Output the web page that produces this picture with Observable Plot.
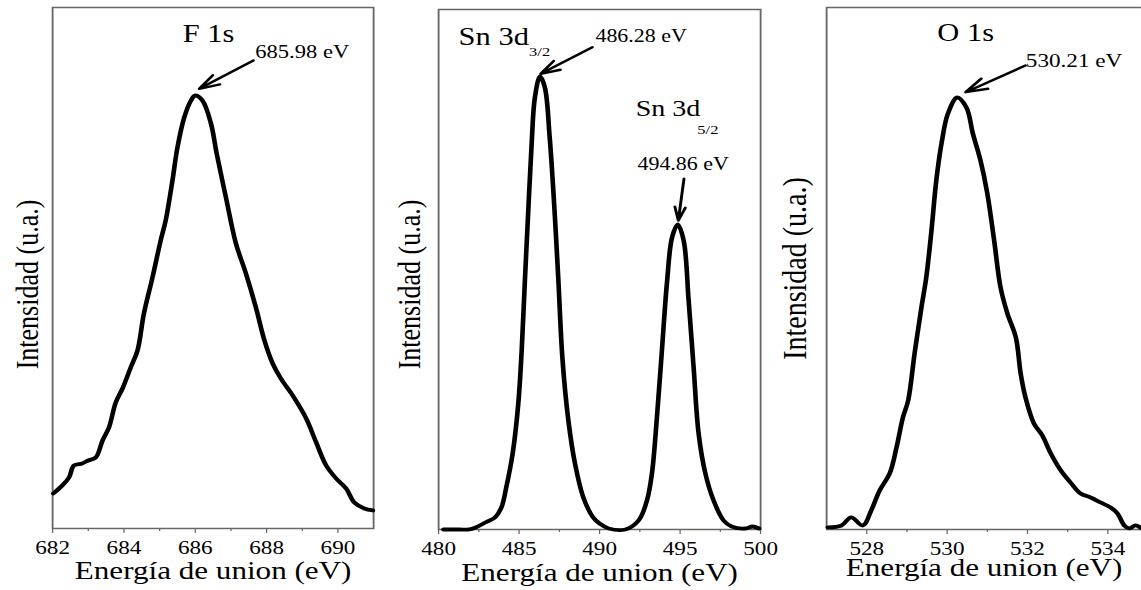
<!DOCTYPE html>
<html><head><meta charset="utf-8">
<script src="https://cdn.jsdelivr.net/npm/d3@7"></script>
<script src="https://cdn.jsdelivr.net/npm/@observablehq/plot@0.6"></script>
<style>
body{margin:0;background:#fff;}
#wrap{position:relative;width:1141px;height:590px;overflow:hidden;background:#fff;}
.panel{position:absolute;top:0;transform-origin:0 0;}
#wrap svg text{font-family:"Liberation Serif","Times New Roman",serif !important;}
#wrap svg g[aria-label="x-axis tick label"] text{font-size:19px !important;}
</style></head><body><div id="wrap"></div>
<script>
// ---------- data ----------
const f1sE = [682.02,682.27,682.46,682.6,682.83,683.0,683.21,683.4,683.58,683.77,683.96,684.19,684.38,684.56,684.8,685.03,685.17,685.36,685.5,685.69,685.88,686.0,686.2,686.44,686.6,686.86,687.14,687.42,687.7,687.94,688.17,688.4,688.73,689.11,689.39,689.67,689.95,690.23,690.46,690.74,690.98];
const f1sI = [35,43,51,63,65,68,71,88,101,126,140,161,178,215,251,288,308,348,381,411,428,433,428,405,375,331,285,255,221,188,165,150,133,110,86,63,50,40,26,20,18];

const sn3dE = [480.3,481.3,481.9,482.3,482.9,483.5,483.9,484.2,484.6,484.95,485.16,485.36,485.57,485.78,485.98,486.3,486.6,486.9,487.2,487.43,487.7,488.06,488.47,488.99,489.6,490.0,490.56,491.6,492.42,492.94,493.25,493.56,493.87,494.18,494.5,494.85,495.22,495.53,495.84,496.15,496.57,497.08,497.7,498.2,499.05,499.5,499.9];
const sn3dI = [0,0,0,2,7,12,22,42,76,126,179,249,319,386,432,453,442,392,319,252,169,109,66,32,12,6,1,0,9,29,56,112,179,246,292,305,289,229,162,96,56,29,9,3,1,3,1];

const o1sE = [527.03,527.37,527.61,527.9,528.11,528.32,528.57,528.74,528.9,529.03,529.19,529.36,529.48,529.61,529.73,529.86,530.02,530.25,530.48,530.64,530.83,531.0,531.17,531.33,531.5,531.71,531.83,531.95,532.16,532.37,532.58,532.83,533.07,533.32,533.57,533.82,534.07,534.24,534.41,534.53,534.69,534.84];
const o1sI = [2,4,12,4,19,39,56,82,112,129,176,222,252,299,349,386,416,432,422,396,369,336,289,242,216,192,156,132,106,94,76,59,47,36,32,27,22,16,4,1,4,1];

const f1sMajor = [682,684,686,688,690];
const f1sMinor = [683,685,687,689];
const sn3dMajor = [480,485,490,495,500];
const sn3dMinor = [482.5,487.5,492.5,497.5];
const o1sMajor = [528,530,532,534];
const o1sMinor = [529,531,533];

const xTitle = "Energía de union (eV)";
const yTitle = "Intensidad (u.a.)";

// annotations (anchor points in data units)
const f1sLabels = [{t:"F 1s", e:686.37, i:494.6}];
const f1sPeakLabels = [{t:"685.98 eV", e:689.0, i:476.5}];
const f1sArrows = [{e1:687.63, i1:468, e2:686.11, i2:439.7}];

const snLabels = [{t:"Sn 3d", e:481.24, i:492.3}];
const snLabels2 = [{t:"Sn 3d", e:492.24, i:421}];
const snSubs = [{t:"3/2", e:485.62, i:478},{t:"5/2", e:496.07, i:400}];
const snPeakLabels = [{t:"486.28 eV", e:492.58, i:493.5},{t:"494.86 eV", e:495.19, i:365}];
const snArrows = [{e1:489.55, i1:482.3, e2:486.34, i2:455.7},{e1:495.24, i1:350.7, e2:494.89, i2:309}];

const o1sLabels = [{t:"O 1s", e:530.46, i:496.5}];
const o1sPeakLabels = [{t:"530.21 eV", e:533.16, i:468.3}];
const o1sArrows = [{e1:531.95, i1:464, e2:530.46, i2:437.3}];

// ---------- layout ----------
const S = 1.22; // horizontal stretch of the original figure
const H = 590;
const FONT = "'Liberation Serif', 'Times New Roman', serif";
const FRAME = "#666";

function makePanel(cfg) {
  const data = cfg.E.map((e, k) => ({e, i: cfg.I[k]}));
  const W = cfg.screenWidth / S;
  const marks = [];
  if (cfg.fullFrame) {
    marks.push(Plot.frame({stroke: FRAME, strokeWidth: 1.5}));
  } else {
    marks.push(Plot.ruleX([cfg.xDomain[0]], {stroke: FRAME, strokeWidth: 1.5}));
    marks.push(Plot.ruleY([cfg.yDomain[0], cfg.yDomain[1]], {stroke: FRAME, strokeWidth: 1.5}));
  }
  marks.push(
    Plot.axisX({ticks: cfg.major, tickSize: 5, tickPadding: 7, stroke: FRAME, fill: "black", fontSize: 19, fontFamily: FONT, tickFormat: d => String(d), label: null}),
    Plot.axisX({ticks: cfg.minor, tickSize: 3, stroke: FRAME, tickFormat: () => "", label: null}),
    Plot.line(data, {x: "e", y: "i", stroke: "black", strokeWidth: 3.8, curve: "catmull-rom", strokeLinejoin: "round"}),
    Plot.text([xTitle], {frameAnchor: "bottom", textAnchor: "middle", lineAnchor: "middle", dy: cfg.xTitleDy, fontSize: 25.5, fontFamily: FONT, fill: "black"}),
    Plot.text([yTitle], {frameAnchor: "left", textAnchor: "middle", lineAnchor: "middle", rotate: -90, dx: cfg.yDx, dy: cfg.yDy, fontSize: cfg.ySize, fontFamily: FONT, fill: "black"})
  );
  for (const a of cfg.annot) marks.push(a);
  const svg = Plot.plot({
    width: W, height: H,
    marginLeft: (cfg.plotLeft - cfg.left) / S,
    marginRight: (cfg.left + cfg.screenWidth - cfg.plotRight) / S,
    marginTop: cfg.plotTop,
    marginBottom: H - cfg.plotBottom,
    x: {domain: cfg.xDomain},
    y: {domain: cfg.yDomain, axis: null},
    style: {fontFamily: FONT, fontSize: "19px", background: "transparent", overflow: "visible", color: "black"},
    marks
  });
  // make sure the tick labels use the intended size
  svg.querySelectorAll('g[aria-label="x-axis tick label"]').forEach(g => {
    g.setAttribute("font-size", "19");
    g.querySelectorAll("text").forEach(t => { t.setAttribute("font-size", "19"); t.style.fontSize = "19px"; });
  });
  const div = document.createElement("div");
  div.className = "panel";
  div.style.left = cfg.left + "px";
  div.style.width = W + "px";
  div.style.transform = `scaleX(${S})`;
  div.appendChild(svg);
  document.getElementById("wrap").appendChild(div);
}

const arrowOpts = {x1: "e1", y1: "i1", x2: "e2", y2: "i2", stroke: "black", strokeWidth: 2.4, headLength: 12, headAngle: 36};
const txt = (extra) => Object.assign({x: "e", y: "i", text: "t", fontFamily: FONT, fill: "black"}, extra);

makePanel({
  E: f1sE, I: f1sI, left: 0, screenWidth: 380, plotLeft: 52, plotRight: 373, plotTop: 7, plotBottom: 528,
  xDomain: [682, 691], yDomain: [0, 521], major: f1sMajor, minor: f1sMinor, fullFrame: true,
  xTitleDy: 42.5, yDx: -20, yDy: 16.5, ySize: 26,
  annot: [
    Plot.text(f1sLabels, txt({fontSize: 25})),
    Plot.text(f1sPeakLabels, txt({fontSize: 18.5})),
    Plot.arrow(f1sArrows, arrowOpts)
  ]
});

makePanel({
  E: sn3dE, I: sn3dI, left: 380, screenWidth: 382, plotLeft: 438, plotRight: 760, plotTop: 9, plotBottom: 529,
  xDomain: [480, 500], yDomain: [0, 520], major: sn3dMajor, minor: sn3dMinor, fullFrame: true,
  xTitleDy: 43, yDx: -23.7, yDy: 15, ySize: 26,
  annot: [
    Plot.text(snLabels, txt({fontSize: 25, textAnchor: "start"})),
    Plot.text(snLabels2, txt({fontSize: 23, textAnchor: "start"})),
    Plot.text(snSubs, txt({fontSize: 13.5, textAnchor: "start"})),
    Plot.text(snPeakLabels, txt({fontSize: 18})),
    Plot.arrow(snArrows, arrowOpts)
  ]
});

makePanel({
  E: o1sE, I: o1sI, left: 762, screenWidth: 379, plotLeft: 826, plotRight: 1141, plotTop: 7, plotBottom: 529,
  xDomain: [527, 534.84], yDomain: [0, 522], major: o1sMajor, minor: o1sMinor, fullFrame: false,
  xTitleDy: 38, yDx: -25.5, yDy: 0, ySize: 28,
  annot: [
    Plot.text(o1sLabels, txt({fontSize: 25})),
    Plot.text(o1sPeakLabels, txt({fontSize: 19})),
    Plot.arrow(o1sArrows, arrowOpts)
  ]
});
</script>
</body></html>
